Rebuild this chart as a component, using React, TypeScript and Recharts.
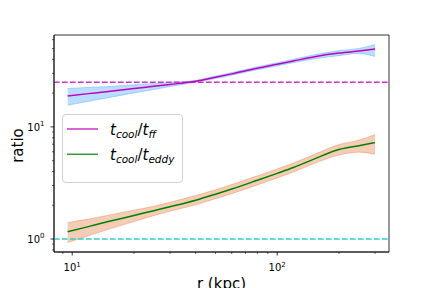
import React from 'react';
import {
  ComposedChart,
  Line,
  Area,
  XAxis,
  YAxis,
  ReferenceLine,
  ReferenceArea,
  Legend,
} from 'recharts';

// ---- data ----
const rValues = [9.5, 12, 15, 20, 25, 30, 40, 50, 60, 80, 100, 120, 150, 200, 250, 300];
const ffMid = [18.9, 19.8, 20.7, 22.0, 23.0, 23.9, 25.5, 27.7, 29.7, 33.4, 36.2, 38.7, 42.0, 45.5, 47.6, 49.4];
const ffLow = [15.6, 16.9, 18.2, 20.1, 21.5, 22.9, 25.0, 27.0, 28.9, 32.4, 35.0, 37.4, 40.3, 43.2, 45.2, 42.4];
const ffHigh = [22.0, 22.5, 22.9, 23.7, 24.4, 24.9, 26.0, 28.4, 30.5, 34.4, 37.4, 40.1, 43.8, 47.9, 50.1, 54.3];
const eddyMid = [1.16, 1.29, 1.43, 1.62, 1.79, 1.94, 2.22, 2.51, 2.79, 3.34, 3.85, 4.34, 5.13, 6.28, 6.8, 7.24];
const eddyLow = [0.93, 1.07, 1.22, 1.43, 1.62, 1.77, 2.02, 2.29, 2.54, 3.04, 3.51, 3.96, 4.68, 5.61, 5.95, 5.71];
const eddyHigh = [1.4, 1.505, 1.63, 1.81, 1.96, 2.13, 2.44, 2.75, 3.06, 3.66, 4.22, 4.76, 5.63, 6.96, 7.62, 8.54];

const ffThreshold = 25;
const eddyThreshold = 1;

const xDomain: [number, number] = [8.15, 351];
const yDomain: [number, number] = [0.766, 66];

const xTicks = [9, 10, 20, 30, 40, 50, 60, 70, 80, 90, 100, 200, 300];
const yTicks = [0.8, 0.9, 1, 2, 3, 4, 5, 6, 7, 8, 9, 10, 20, 30, 40, 50, 60];
const majorTickExponents: Record<number, string> = { 1: '0', 10: '1', 100: '2' };

const legendEntries = [
  { sub: 'ff', color: '#cc33cc' },
  { sub: 'eddy', color: '#339933' },
];

const data = rValues.map((r, i) => ({
  r,
  ff: ffMid[i],
  ffBand: [ffLow[i], ffHigh[i]],
  eddy: eddyMid[i],
  eddyBand: [eddyLow[i], eddyHigh[i]],
}));

const FONT = 'DejaVu Sans, sans-serif';

const XTick = (props: any) => {
  const { x, y, payload } = props;
  const v = payload.value;
  const exp = majorTickExponents[v];
  const major = exp !== undefined;
  return (
    <g>
      <line x1={x} x2={x} y1={y} y2={y + (major ? 3.5 : 2)} stroke="#000" strokeWidth={major ? 0.8 : 0.6} />
      {major && (
        <text x={x} y={y + 19} textAnchor="middle" fontSize={10} fill="#000" fontFamily={FONT}>
          10
          <tspan dy={-4.5} fontSize={7}>
            {exp}
          </tspan>
        </text>
      )}
    </g>
  );
};

const YTick = (props: any) => {
  const { x, y, payload } = props;
  const v = payload.value;
  const exp = majorTickExponents[v];
  const major = exp !== undefined;
  return (
    <g>
      <line x1={x} x2={x - (major ? 3.5 : 2)} y1={y} y2={y} stroke="#000" strokeWidth={major ? 0.8 : 0.6} />
      {major && (
        <text x={x - 9.5} y={y + 3.8} textAnchor="end" fontSize={10} fill="#000" fontFamily={FONT}>
          10
          <tspan dy={-4.5} fontSize={7}>
            {exp}
          </tspan>
        </text>
      )}
    </g>
  );
};

const LegendBox = () => (
  <svg width={122} height={70} style={{ display: 'block' }}>
    <rect x={0.5} y={0.5} width={120} height={68} rx={3.5} fill="#fff" fillOpacity={0.8} stroke="#d0d0d0" strokeWidth={1} />
    {legendEntries.map((e, i) => (
      <g key={e.sub}>
        <line x1={5} x2={36} y1={15 + i * 25.3} y2={15 + i * 25.3} stroke={e.color} strokeWidth={1.5} />
        <text x={48} y={21 + i * 25.3} fontFamily={FONT} fontSize={15} fill="#000">
          <tspan fontStyle="italic">t</tspan>
          <tspan fontStyle="italic" fontSize={10.5} dy={3}>
            cool
          </tspan>
          <tspan dy={-3}>/</tspan>
          <tspan fontStyle="italic">t</tspan>
          <tspan fontStyle="italic" fontSize={10.5} dy={3}>
            {e.sub}
          </tspan>
        </text>
      </g>
    ))}
  </svg>
);

const XLabel = (props: any) => {
  const vb = props.viewBox;
  return (
    <text x={vb.x + vb.width / 2} y={vb.y + 37} textAnchor="middle" fontSize={15} fontFamily={FONT} fill="#000">
      r (kpc)
    </text>
  );
};

const YLabel = (props: any) => {
  const vb = props.viewBox;
  const cx = vb.x + 22.5;
  const cy = vb.y + vb.height / 2 + 2;
  return (
    <text x={cx} y={cy} transform={`rotate(-90, ${cx}, ${cy})`} textAnchor="middle" fontSize={15} fontFamily={FONT} fill="#000">
      ratio
    </text>
  );
};

export default function App() {
  return (
    <div style={{ position: 'absolute', left: 0, top: 0, width: 432, height: 288, background: '#fff' }}>
      <ComposedChart width={432} height={288} data={data} margin={{ top: 35, right: 43, bottom: 0, left: 0 }}>
        <XAxis
          dataKey="r"
          type="number"
          scale="log"
          domain={xDomain}
          allowDataOverflow
          ticks={xTicks}
          interval={0}
          tick={<XTick />}
          tickLine={false}
          tickSize={0}
          tickMargin={0}
          height={36}
          axisLine={{ stroke: '#000', strokeWidth: 0.8 }}
          label={<XLabel />}
        />
        <YAxis
          type="number"
          scale="log"
          domain={yDomain}
          allowDataOverflow
          ticks={yTicks}
          interval={0}
          tick={<YTick />}
          tickLine={false}
          tickSize={0}
          tickMargin={0}
          width={54}
          axisLine={{ stroke: '#000', strokeWidth: 0.8 }}
          label={<YLabel />}
        />
        <Area
          dataKey="ffBand"
          type="monotone"
          fill="#1e90ff"
          fillOpacity={0.3}
          stroke="#1e90ff"
          strokeOpacity={0.3}
          strokeWidth={1}
          isAnimationActive={false}
          activeDot={false}
          dot={false}
        />
        <Area
          dataKey="eddyBand"
          type="monotone"
          fill="#dd5a10"
          fillOpacity={0.3}
          stroke="#dd5a10"
          strokeOpacity={0.3}
          strokeWidth={1}
          isAnimationActive={false}
          activeDot={false}
          dot={false}
        />
        <ReferenceLine y={ffThreshold} stroke="#cc33cc" strokeWidth={1.5} strokeDasharray="5.6 2.4" />
        <ReferenceLine y={eddyThreshold} stroke="#33cccc" strokeWidth={1.5} strokeDasharray="5.6 2.4" />
        <Line dataKey="ff" type="monotone" stroke="#bf00bf" strokeWidth={1.5} dot={false} activeDot={false} isAnimationActive={false} />
        <Line dataKey="eddy" type="monotone" stroke="#008000" strokeWidth={1.5} dot={false} activeDot={false} isAnimationActive={false} />
        <ReferenceArea
          x1={xDomain[0]}
          x2={xDomain[1]}
          y1={yDomain[0]}
          y2={yDomain[1]}
          fill="none"
          stroke="#000"
          strokeWidth={0.8}
          ifOverflow="visible"
        />
        <Legend
          layout="vertical"
          align="center"
          verticalAlign="middle"
          wrapperStyle={{ left: 62, top: 114, width: 122, height: 70 }}
          content={<LegendBox />}
        />
      </ComposedChart>
    </div>
  );
}
